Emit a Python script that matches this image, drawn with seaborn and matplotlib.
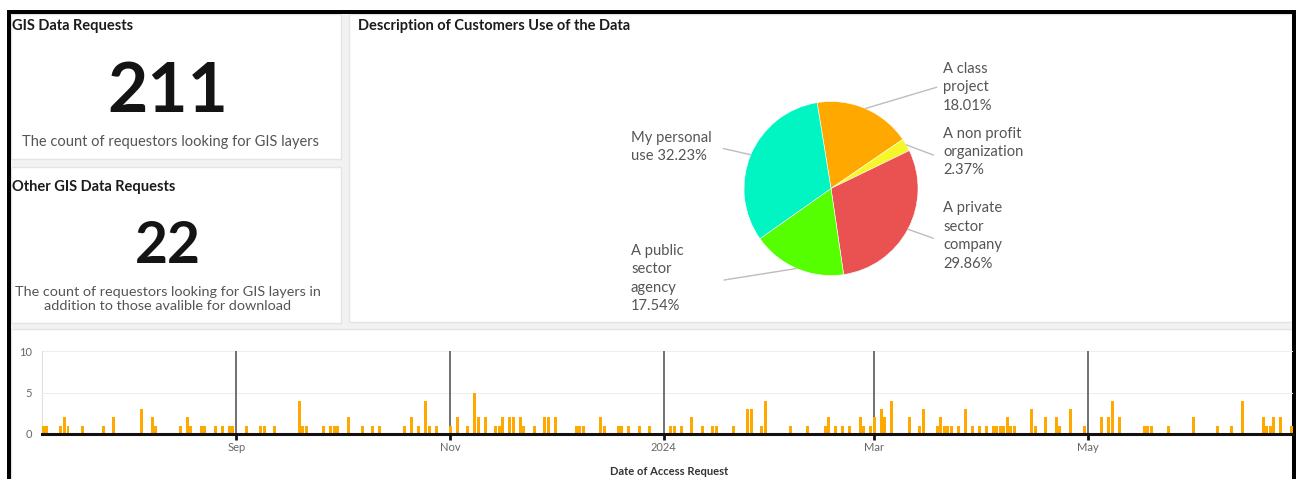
import numpy as np
import pandas as pd
import matplotlib
matplotlib.use("Agg")
import matplotlib.pyplot as plt
import matplotlib.dates as mdates
from matplotlib.patches import Rectangle
import seaborn as sns

sns.set_theme(style="white")
plt.rcParams['font.family'] = ['Lato', 'DejaVu Sans']

# ---------------- data ----------------
kpi_titles = ["GIS Data Requests", "Other GIS Data Requests"]
kpi_values = [211, 22]
kpi_notes = ["The count of requestors looking for GIS layers",
             "The count of requestors looking for GIS layers in\naddition to those avalible for download"]

pie_title = "Description of Customers Use of the Data"
use_labels = ["A class\nproject", "A non profit\norganization", "A private\nsector\ncompany",
              "A public\nsector\nagency", "My personal\nuse"]
use_pcts = [18.01, 2.37, 29.86, 17.54, 32.23]
use_colors = ["#FFA800", "#F7F728", "#EA5151", "#55FF00", "#00F5C2"]

req_dates = [
    "2023-07-08", "2023-07-09", "2023-07-13", "2023-07-14", "2023-07-15", "2023-07-19",
    "2023-07-25", "2023-07-28", "2023-08-05", "2023-08-08", "2023-08-09", "2023-08-16",
    "2023-08-18", "2023-08-19", "2023-08-22", "2023-08-23", "2023-08-26", "2023-08-28",
    "2023-08-30", "2023-08-31",
    "2023-09-04", "2023-09-08", "2023-09-09", "2023-09-12", "2023-09-19", "2023-09-20",
    "2023-09-21", "2023-09-26", "2023-09-28", "2023-09-29", "2023-09-30",
    "2023-10-03", "2023-10-07", "2023-10-10", "2023-10-12", "2023-10-19", "2023-10-21",
    "2023-10-23", "2023-10-25", "2023-10-26", "2023-10-28",
    "2023-11-01", "2023-11-03", "2023-11-06", "2023-11-08", "2023-11-09", "2023-11-11",
    "2023-11-14", "2023-11-15", "2023-11-16", "2023-11-18", "2023-11-19", "2023-11-21",
    "2023-11-22", "2023-11-25", "2023-11-28", "2023-11-29",
    "2023-12-01", "2023-12-07", "2023-12-08", "2023-12-09", "2023-12-14", "2023-12-15",
    "2023-12-19", "2023-12-20", "2023-12-22", "2023-12-25", "2023-12-28",
    "2024-01-03", "2024-01-04", "2024-01-06", "2024-01-09", "2024-01-12", "2024-01-15",
    "2024-01-16", "2024-01-21", "2024-01-25", "2024-01-26", "2024-01-29", "2024-01-30",
    "2024-02-06", "2024-02-11", "2024-02-16", "2024-02-17", "2024-02-19", "2024-02-21",
    "2024-02-23", "2024-02-26", "2024-02-27", "2024-02-29",
    "2024-03-01", "2024-03-03", "2024-03-04", "2024-03-06", "2024-03-11", "2024-03-14",
    "2024-03-15", "2024-03-19", "2024-03-20", "2024-03-21", "2024-03-22", "2024-03-23",
    "2024-03-25", "2024-03-27", "2024-03-29", "2024-03-31",
    "2024-04-02", "2024-04-04", "2024-04-05", "2024-04-06", "2024-04-07", "2024-04-08",
    "2024-04-09", "2024-04-10", "2024-04-15", "2024-04-16", "2024-04-19", "2024-04-22",
    "2024-04-23", "2024-04-26", "2024-04-30",
    "2024-05-05", "2024-05-07", "2024-05-08", "2024-05-10", "2024-05-17", "2024-05-18",
    "2024-05-19", "2024-05-24", "2024-05-31",
    "2024-06-07", "2024-06-11", "2024-06-14", "2024-06-20", "2024-06-21", "2024-06-22",
    "2024-06-23", "2024-06-25", "2024-06-28",
]
req_counts = [
    1, 1, 1, 2, 1, 1,
    1, 2, 3, 2, 1, 1,
    2, 1, 1, 1, 1, 1,
    1, 1,
    1, 1, 1, 1, 4, 1,
    1, 1, 1, 1, 1,
    2, 1, 1, 1, 1, 2,
    1, 4, 1, 1,
    1, 2, 1, 5, 2, 2,
    1, 1, 2, 2, 2, 2,
    1, 1, 2, 2,
    2, 1, 1, 1, 2, 1,
    1, 1, 1, 1, 1,
    1, 1, 1, 2, 1, 1,
    1, 1, 3, 3, 1, 4,
    1, 1, 1, 2, 1, 1,
    1, 2, 1, 1,
    2, 3, 2, 4, 2, 1,
    3, 1, 2, 1, 1, 1,
    1, 3, 1, 1,
    1, 1, 1, 1, 1, 2,
    1, 1, 3, 1, 2, 2,
    1, 3, 1,
    2, 2, 4, 2, 1, 1,
    1, 1, 2,
    1, 1, 4, 2, 1, 1,
    2, 2, 1,
]
x_span = ["2023-07-07 14:00", "2024-06-28 12:00"]
month_ticks = ["2023-09-01", "2023-11-01", "2024-01-01", "2024-03-01", "2024-05-01"]
month_labels = ["Sep", "Nov", "2024", "Mar", "May"]
y_ticks = [0, 5, 10]
x_title = "Date of Access Request"

# ---------------- figure ----------------
W, H = 1296, 479
fig = plt.figure(figsize=(W / 100, H / 100), dpi=100)
fig.patch.set_facecolor("white")

bg = fig.add_axes([0, 0, 1, 1])
bg.set_xlim(0, W)
bg.set_ylim(H, 0)
bg.axis("off")

# dashboard frame & panels
bg.add_patch(Rectangle((11, 14), 1282, 470, facecolor="#f2f2f2", edgecolor="none"))
panels = [(11, 14, 330, 145), (11, 167, 330, 156), (349, 14, 944, 308), (11, 329, 1282, 160)]
for (px, py, pw, ph) in panels:
    bg.add_patch(Rectangle((px, py), pw, ph, facecolor="white", edgecolor="#e4e4e4", lw=1))
bg.add_patch(Rectangle((7, 10), 1289, 4, facecolor="black", edgecolor="none"))
bg.add_patch(Rectangle((7, 10), 4, 470, facecolor="black", edgecolor="none"))
bg.add_patch(Rectangle((1292, 10), 4, 470, facecolor="black", edgecolor="none"))

# KPI cards
title_kw = dict(fontsize=10.5, weight="bold", color="#1c1c1c", ha="left", va="center")
bg.text(12, 26, kpi_titles[0], **title_kw)
bg.text(12, 187.5, kpi_titles[1], **title_kw)
bg.text(168, 112, f"{kpi_values[0]}", fontsize=50, weight="bold", color="#141414",
        ha="center", va="baseline")
bg.text(168, 263, f"{kpi_values[1]}", fontsize=41, weight="bold", color="#141414",
        ha="center", va="baseline")
bg.text(170, 142, kpi_notes[0], fontsize=10.5, color="#555555", ha="center", va="center")
bg.text(168, 299.5, kpi_notes[1], fontsize=10.4, color="#555555", ha="center", va="center",
        linespacing=1.2)

# ---------------- pie ----------------
bg.text(358, 26, pie_title, **title_kw)
cx, cy, R = 831, 188.5, 87
ax_pie = fig.add_axes([(cx - R) / W, (H - cy - R) / H, 2 * R / W, 2 * R / H])
wedges, _ = ax_pie.pie(use_pcts, colors=use_colors, startangle=99.2, counterclock=False,
                       radius=1, wedgeprops=dict(edgecolor="white", linewidth=0.4))
ax_pie.set_xlim(-1, 1)
ax_pie.set_ylim(-1, 1)
ax_pie.set_aspect("equal")

label_pos = [(1.287, 1.163), (1.287, 0.42), (1.287, -0.546), (-2.299, -1.034), (-2.299, 0.477)]
leader_end = [(1.215, 1.164), (1.176, 0.385), (1.176, -0.572), (-1.230, -1.052), (-1.238, 0.460)]
seps = ["\n", "\n", "\n", "\n", " "]
for w, name, pct, pos, end, sep in zip(wedges, use_labels, use_pcts, label_pos, leader_end, seps):
    mid = np.deg2rad((w.theta1 + w.theta2) / 2)
    ax_pie.plot([np.cos(mid), end[0]], [np.sin(mid), end[1]], color="#bdbdbd", lw=1,
                clip_on=False)
    ax_pie.text(pos[0], pos[1], f"{name}{sep}{pct:.2f}%", fontsize=10.6, color="#555555",
                ha="left", va="center", linespacing=1.4, clip_on=False)

# ---------------- timeline ----------------
x0, x1, y0, y10 = 42, 1293, 434, 351
ax = fig.add_axes([x0 / W, (H - y0) / H, (x1 - x0) / W, (y0 - y10) / H])
df = pd.DataFrame({"date": mdates.date2num(pd.to_datetime(req_dates)), "count": req_counts})
sns.histplot(data=df, x="date", weights="count", discrete=True, shrink=0.85,
             color="#FFA800", alpha=1, linewidth=0, ax=ax, zorder=3)

ax.set_xlim(mdates.date2num(pd.to_datetime(x_span)))
ax.set_ylim(0, 10)
tick_nums = mdates.date2num(pd.to_datetime(month_ticks))
for t in tick_nums:
    ax.axvline(t, color="#666666", lw=1.3, zorder=2)
ax.set_xticks(tick_nums)
ax.set_xticklabels(month_labels)
ax.set_yticks(y_ticks)
ax.set_yticklabels([str(v) for v in y_ticks])
ax.set_xlabel("")
ax.set_ylabel("")
ax.grid(axis="y", color="#eeeeee", lw=0.8, zorder=0)
ax.grid(axis="x", visible=False)
ax.set_axisbelow(True)
for s in ["top", "right"]:
    ax.spines[s].set_visible(False)
ax.spines["left"].set_color("#e0e0e0")
ax.spines["left"].set_linewidth(0.8)
ax.spines["bottom"].set_color("#111111")
ax.spines["bottom"].set_linewidth(2.2)
ax.spines["bottom"].set_zorder(4)
ax.tick_params(axis="x", length=4, width=2, color="#111111", labelsize=8,
               labelcolor="#666666", pad=2, bottom=True, direction="out")
ax.tick_params(axis="y", length=0, labelsize=8, labelcolor="#666666", pad=7, left=False)
ax.patch.set_alpha(0)

bg.text(669, 466, x_title, fontsize=8, weight="bold", color="#333333", ha="center", va="top")

fig.savefig("out.png", dpi=100)
